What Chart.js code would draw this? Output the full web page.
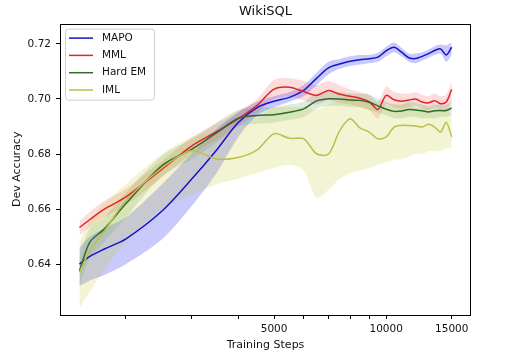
<!DOCTYPE html>
<html>
<head>
<meta charset="utf-8">
<script src="https://cdn.jsdelivr.net/npm/chart.js@4.4.0/dist/chart.umd.min.js"></script>
<style>
  body { margin: 0; background: #fff; }
  #wrap { width: 508px; height: 358px; }
</style>
</head>
<body>
<div id="wrap"><canvas id="chart" width="508" height="358"></canvas></div>
<script>
// training steps (x, log scale)
const steps = [1500, 1600, 1750, 2000, 2500, 3000, 3500, 4000, 4500, 5000, 5500, 6000, 6500, 7000, 7500,
  8000, 8500, 9000, 9500, 10000, 10500, 11000, 11500, 12000, 12500, 13000, 13500, 14000, 14500, 15000];

const mapo = [0.6400, 0.6428, 0.6455, 0.6492, 0.6593, 0.6708, 0.6814, 0.6914, 0.6969, 0.6992, 0.7006, 0.7031, 0.7075, 0.7113, 0.7127,
  0.7137, 0.7143, 0.7146, 0.7152, 0.7175, 0.7188, 0.7170, 0.7150, 0.7147, 0.7155, 0.7165, 0.7176, 0.7182, 0.7160, 0.7188];
const mapoLo = [0.632, 0.634, 0.636, 0.640, 0.649, 0.661, 0.673, 0.686, 0.694, 0.697, 0.699, 0.701, 0.705, 0.709, 0.711,
  0.712, 0.7125, 0.713, 0.7135, 0.7155, 0.717, 0.7155, 0.7135, 0.713, 0.714, 0.715, 0.716, 0.7165, 0.7135, 0.716];
const mapoHi = [0.646, 0.650, 0.653, 0.657, 0.669, 0.680, 0.689, 0.695, 0.699, 0.701, 0.7025, 0.705, 0.7095, 0.7135, 0.7145,
  0.7155, 0.716, 0.716, 0.7168, 0.719, 0.7205, 0.7185, 0.7165, 0.7165, 0.717, 0.718, 0.7192, 0.7198, 0.7195, 0.7205];

const mml = [0.6533, 0.6562, 0.6600, 0.6644, 0.6745, 0.6829, 0.6881, 0.6928, 0.6977, 0.7036, 0.7043, 0.7027, 0.7013, 0.7031, 0.7017,
  0.7010, 0.7003, 0.6990, 0.6962, 0.7013, 0.6997, 0.6992, 0.6996, 0.7000, 0.6989, 0.6986, 0.6994, 0.6983, 0.6989, 0.7035];
const mmlLo = [0.6505, 0.6535, 0.657, 0.6615, 0.6715, 0.680, 0.685, 0.690, 0.695, 0.700, 0.701, 0.6995, 0.698, 0.6995, 0.6985,
  0.698, 0.697, 0.696, 0.693, 0.698, 0.697, 0.6965, 0.697, 0.6975, 0.6965, 0.696, 0.697, 0.696, 0.696, 0.699];
const mmlHi = [0.6555, 0.659, 0.663, 0.6675, 0.6775, 0.686, 0.691, 0.6955, 0.700, 0.707, 0.7075, 0.7065, 0.705, 0.7065, 0.705,
  0.7035, 0.7025, 0.7015, 0.699, 0.7045, 0.7025, 0.702, 0.702, 0.7025, 0.7015, 0.701, 0.702, 0.701, 0.7015, 0.7065];

const hardEm = [0.6375, 0.6480, 0.6528, 0.6620, 0.6758, 0.6817, 0.6877, 0.6929, 0.6940, 0.6943, 0.6952, 0.6964, 0.6993, 0.7001, 0.7000,
  0.6996, 0.6995, 0.6988, 0.6975, 0.6963, 0.6955, 0.6956, 0.6962, 0.6960, 0.6957, 0.6953, 0.6957, 0.6958, 0.6958, 0.6968];
const hardEmLo = [0.632, 0.642, 0.648, 0.657, 0.672, 0.678, 0.684, 0.690, 0.691, 0.6915, 0.6925, 0.6935, 0.6965, 0.6975, 0.6975,
  0.697, 0.697, 0.696, 0.695, 0.694, 0.693, 0.693, 0.6935, 0.6935, 0.693, 0.693, 0.693, 0.6935, 0.6935, 0.6945];
const hardEmHi = [0.643, 0.653, 0.657, 0.666, 0.6795, 0.6855, 0.6915, 0.696, 0.697, 0.697, 0.698, 0.699, 0.702, 0.7025, 0.7025,
  0.702, 0.702, 0.7015, 0.700, 0.699, 0.698, 0.698, 0.699, 0.6985, 0.698, 0.6975, 0.698, 0.698, 0.698, 0.699];

const iml = [0.6370, 0.6450, 0.6520, 0.6630, 0.6750, 0.6812, 0.6782, 0.6787, 0.6815, 0.6874, 0.6857, 0.6856, 0.6801, 0.6800, 0.6884,
  0.6928, 0.6895, 0.6880, 0.6855, 0.6862, 0.6898, 0.6904, 0.6904, 0.6902, 0.6898, 0.6908, 0.6898, 0.6880, 0.6915, 0.6862];
const imlLo = [0.624, 0.630, 0.638, 0.648, 0.660, 0.665, 0.669, 0.671, 0.673, 0.675, 0.676, 0.674, 0.664, 0.667, 0.671,
  0.673, 0.674, 0.675, 0.676, 0.677, 0.678, 0.678, 0.679, 0.680, 0.680, 0.681, 0.681, 0.681, 0.682, 0.682];
const imlHi = [0.648, 0.656, 0.662, 0.669, 0.680, 0.686, 0.688, 0.690, 0.693, 0.697, 0.697, 0.697, 0.696, 0.698, 0.700,
  0.701, 0.700, 0.699, 0.698, 0.698, 0.698, 0.698, 0.698, 0.697, 0.697, 0.697, 0.697, 0.696, 0.697, 0.694];

const xTicks = [2000, 3000, 4000, 5000, 6000, 7000, 8000, 9000, 10000, 15000];
const xLabels = [5000, 10000, 15000];
const yTicks = [0.64, 0.66, 0.68, 0.70, 0.72];

const series = [
  { name: 'MAPO', y: mapo, lo: mapoLo, hi: mapoHi, color: '#1414c8', band: 'rgba(40,40,240,0.25)' },
  { name: 'MML', y: mml, lo: mmlLo, hi: mmlHi, color: '#e0242a', band: 'rgba(240,40,40,0.16)' },
  { name: 'Hard EM', y: hardEm, lo: hardEmLo, hi: hardEmHi, color: '#2e6a2e', band: 'rgba(40,130,40,0.16)' },
  { name: 'IML', y: iml, lo: imlLo, hi: imlHi, color: '#bcbf4a', band: 'rgba(200,205,60,0.22)' }
];

const pts = arr => steps.map((s, i) => ({ x: s, y: arr[i] }));

const datasets = [];
series.forEach((s, k) => {
  datasets.push({ label: '_lo', data: pts(s.lo), borderWidth: 0, pointRadius: 0, fill: false, tension: 0.3, order: 20 - k });
  datasets.push({ label: '_hi', data: pts(s.hi), borderWidth: 0, pointRadius: 0, fill: '-1', backgroundColor: s.band, tension: 0.3, order: 20 - k });
});
series.forEach((s, k) => {
  datasets.push({ label: s.name, data: pts(s.y), borderColor: s.color, borderWidth: 1.5, pointRadius: 0, fill: false, tension: 0.3, order: 10 - k });
});

// box around plot + matplotlib-like legend
const framePlugin = {
  id: 'frame',
  afterDraw(chart) {
    const { ctx, chartArea: a } = chart;
    ctx.save();
    ctx.strokeStyle = '#000';
    ctx.lineWidth = 1;
    ctx.strokeRect(Math.round(a.left) + 0.5, Math.round(a.top) + 0.5, Math.round(a.right - a.left) - 1, Math.round(a.bottom - a.top));

    const bx = a.left + 5, by = a.top + 5, bw = 89, bh = 71;
    ctx.fillStyle = 'rgba(255,255,255,0.8)';
    ctx.strokeStyle = '#d0d0d0';
    ctx.beginPath();
    ctx.roundRect(bx + 0.5, by + 0.5, bw, bh, 3);
    ctx.fill();
    ctx.stroke();
    ctx.font = '10.5px "DejaVu Sans"';
    ctx.textBaseline = 'middle';
    series.forEach((s, i) => {
      const y = by + 9.5 + i * 17.3;
      ctx.strokeStyle = s.color;
      ctx.lineWidth = 1.5;
      ctx.beginPath();
      ctx.moveTo(bx + 4, y);
      ctx.lineTo(bx + 28, y);
      ctx.stroke();
      ctx.fillStyle = '#111';
      ctx.fillText(s.name, bx + 37, y);
    });
    ctx.restore();
  }
};

new Chart(document.getElementById('chart'), {
  type: 'line',
  data: { datasets: datasets },
  options: {
    responsive: false,
    animation: false,
    layout: { padding: { left: 0, right: 37, top: 0, bottom: 0 } },
    plugins: {
      legend: { display: false },
      tooltip: { enabled: false },
      title: {
        display: true, text: 'WikiSQL', fullSize: false, color: '#111',
        font: { family: 'DejaVu Sans', size: 13, weight: 'normal' },
        padding: { top: 4, bottom: 4 }
      }
    },
    scales: {
      x: {
        type: 'logarithmic',
        min: 1330, max: 16900,
        afterBuildTicks: sc => { sc.ticks = xTicks.map(v => ({ value: v })); },
        afterFit: sc => { sc.height = 43; },
        grid: { drawOnChartArea: false, tickLength: 4, tickColor: '#000' },
        border: { display: false },
        ticks: {
          autoSkip: false, maxRotation: 0, padding: 4, color: '#111',
          font: { family: 'DejaVu Sans', size: 10.5 },
          callback: v => xLabels.includes(v) ? String(v) : ''
        },
        title: {
          display: true, text: 'Training Steps', color: '#111',
          font: { family: 'DejaVu Sans', size: 11 },
          padding: { top: 0, bottom: 6 }
        }
      },
      y: {
        min: 0.6215, max: 0.7274,
        afterBuildTicks: sc => { sc.ticks = yTicks.map(v => ({ value: v })); },
        afterFit: sc => { sc.width = 60; },
        grid: { drawOnChartArea: false, tickLength: 4, tickColor: '#000' },
        border: { display: false },
        ticks: {
          padding: 5, color: '#111',
          font: { family: 'DejaVu Sans', size: 10.5 },
          callback: v => v.toFixed(2)
        },
        title: {
          display: true, text: 'Dev Accuracy', color: '#111',
          font: { family: 'DejaVu Sans', size: 11 },
          padding: { top: 11, bottom: 0 }
        }
      }
    }
  },
  plugins: [framePlugin]
});
</script>
</body>
</html>
